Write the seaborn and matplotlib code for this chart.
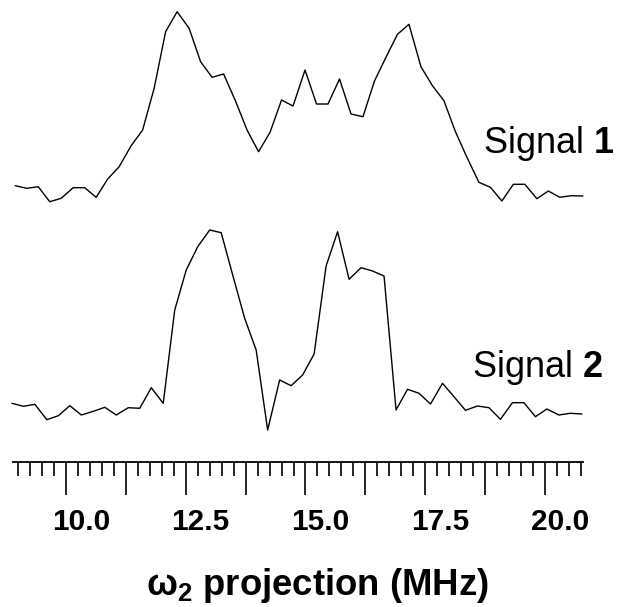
import numpy as np
import pandas as pd
import matplotlib
matplotlib.use("Agg")
import matplotlib.pyplot as plt
import seaborn as sns
from matplotlib.ticker import FixedLocator, FixedFormatter, MultipleLocator
from matplotlib.transforms import ScaledTranslation

# ---- data ----
x1 = [8.94, 9.18, 9.42, 9.66, 9.90, 10.15, 10.39, 10.63, 10.87, 11.11,
      11.36, 11.60, 11.84, 12.08, 12.32, 12.57, 12.81, 13.05, 13.29, 13.53,
      13.78, 14.02, 14.26, 14.50, 14.74, 14.99, 15.23, 15.47, 15.71, 15.95,
      16.20, 16.44, 16.68, 16.92, 17.16, 17.41, 17.65, 17.89, 18.13, 18.37,
      18.62, 18.86, 19.10, 19.34, 19.58, 19.83, 20.07, 20.31, 20.55, 20.79]
signal1 = [26.3, 23.7, 25.3, 10.3, 13.7, 24.3, 24.3, 14.7, 33.0, 45.3,
           66.3, 82.0, 123.7, 180.3, 200.3, 183.7, 150.3, 134.7, 138.0, 112.0,
           82.0, 60.3, 79.7, 112.0, 106.0, 142.0, 108.0, 108.0, 133.0, 98.0,
           95.3, 131.0, 154.7, 177.7, 187.7, 145.3, 126.3, 111.3, 80.3, 54.7,
           29.7, 24.7, 11.0, 27.7, 27.7, 13.3, 21.0, 14.7, 16.3, 16.0]

x2 = [8.87, 9.11, 9.35, 9.60, 9.84, 10.08, 10.32, 10.57, 10.81, 11.05,
      11.30, 11.54, 11.78, 12.03, 12.27, 12.51, 12.75, 13.00, 13.24, 13.48,
      13.73, 13.97, 14.21, 14.46, 14.70, 14.94, 15.18, 15.43, 15.67, 15.91,
      16.16, 16.40, 16.64, 16.89, 17.13, 17.37, 17.61, 17.86, 18.10, 18.34,
      18.59, 18.83, 19.07, 19.32, 19.56, 19.80, 20.04, 20.29, 20.53, 20.77]
signal2 = [28.7, 25.7, 27.7, 12.3, 16.3, 26.3, 17.0, 20.7, 24.7, 17.0,
           24.3, 23.7, 44.3, 28.7, 122.0, 162.0, 185.3, 202.0, 199.3, 157.0,
           113.7, 82.0, 2.0, 52.0, 46.3, 57.0, 78.0, 166.0, 200.3, 152.7,
           164.3, 161.0, 156.0, 22.0, 42.7, 38.7, 28.0, 48.7, 35.3, 21.7,
           26.0, 24.3, 12.7, 29.3, 29.3, 15.3, 23.0, 17.0, 18.7, 18.0]

major_ticks = [10.0, 11.25, 12.5, 13.75, 15.0, 16.25, 17.5, 18.75, 20.0]
major_labels = ["10.0", "", "12.5", "", "15.0", "", "17.5", "", "20.0"]
series_labels = [r"Signal $\mathbf{1}$", r"Signal $\mathbf{2}$"]
xlabel_text = r"ω$_\mathbf{2}$ projection (MHz)"

# ---- layout / style ----
OFFSET1 = 250
OFFSET2 = 30
W, H = 619, 607

sns.set_theme(style="white")
plt.rcParams["font.family"] = ["Liberation Sans", "DejaVu Sans"]
plt.rcParams["mathtext.fontset"] = "custom"
plt.rcParams["mathtext.rm"] = "Liberation Sans"
plt.rcParams["mathtext.it"] = "Liberation Sans:italic"
plt.rcParams["mathtext.bf"] = "Liberation Sans:bold"

fig = plt.figure(figsize=(W / 100, H / 100), dpi=100)
ax = fig.add_axes([12.7 / W, (H - 462) / H, (583 - 12.7) / W, 462 / H])

df1 = pd.DataFrame({"x": x1, "y": np.array(signal1) + OFFSET1})
df2 = pd.DataFrame({"x": x2, "y": np.array(signal2) + OFFSET2})
sns.lineplot(data=df1, x="x", y="y", ax=ax, color="black", lw=1.0,
             estimator=None, sort=False, clip_on=False)
sns.lineplot(data=df2, x="x", y="y", ax=ax, color="black", lw=1.0,
             estimator=None, sort=False, clip_on=False)

ax.set_xlim(10 + (12.7 - 66) / 47.9, 10 + (583 - 66) / 47.9)
ax.set_ylim(0, 462)
for s in ["left", "right", "top"]:
    ax.spines[s].set_visible(False)
ax.spines["bottom"].set_color("black")
ax.spines["bottom"].set_linewidth(1.3)
ax.set_yticks([])
ax.grid(False)
ax.set_xlabel("")
ax.set_ylabel("")

ax.xaxis.set_major_locator(FixedLocator(major_ticks))
ax.xaxis.set_major_formatter(FixedFormatter(major_labels))
ax.xaxis.set_minor_locator(MultipleLocator(0.25))
ax.tick_params(axis="x", which="major", direction="out", length=24, width=1.2,
               color="black", bottom=True, pad=9, labelsize=21.5)
ax.tick_params(axis="x", which="minor", direction="out", length=10, width=1.2,
               color="black", bottom=True)
for lab in ax.get_xticklabels():
    lab.set_fontweight("bold")
    lab.set_color("black")
    lab.set_transform(lab.get_transform() +
                      ScaledTranslation(15 / 100, 0, fig.dpi_scale_trans))

fig.text(483 / W, 1 - 153 / H, series_labels[0], fontsize=26,
         ha="left", va="baseline", color="black")
fig.text(472 / W, 1 - 377 / H, series_labels[1], fontsize=26,
         ha="left", va="baseline", color="black")
fig.text(317 / W, 1 - 595 / H, xlabel_text, fontsize=26.3, fontweight="bold",
         ha="center", va="baseline", color="black")

fig.savefig("out.png", dpi=100, facecolor="white")
